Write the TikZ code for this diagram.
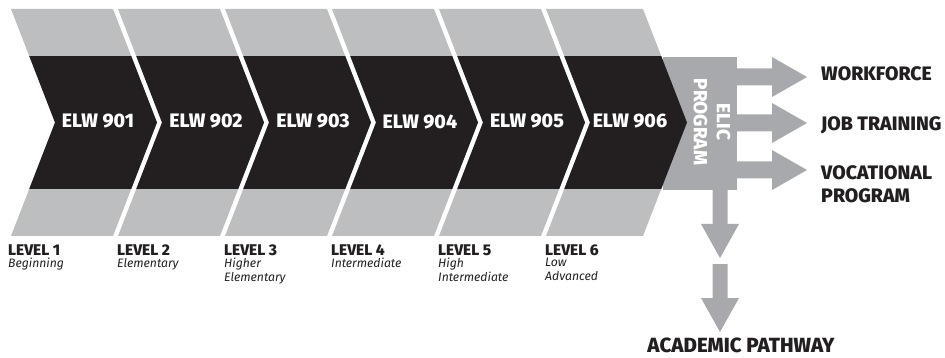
\documentclass[tikz,border=0pt]{standalone}
\usepackage{fontspec}
\setmainfont{Fira Sans}[BoldFont={Fira Sans ExtraBold}]
\usetikzlibrary{calc}
\definecolor{lgray}{HTML}{BCBEC0}
\definecolor{dgray}{HTML}{A7A9AC}
\definecolor{ink}{HTML}{231F20}
\tikzset{
  elw/.style={text=white, font=\bfseries\fontsize{19.5}{22}\selectfont, inner sep=0pt},
  lvl/.style={font=\bfseries\fontsize{15.5}{17}\selectfont, inner sep=0pt, text=ink, anchor=base west},
  lvldesc/.style={font=\itshape\fontsize{12.2}{14}\selectfont, inner sep=0pt, text=ink, align=left, anchor=north west},
  outlbl/.style={font=\bfseries\fontsize{19.5}{23}\selectfont, inner sep=0pt, text=ink, align=left},
  elicbox/.style={fill=dgray, inner sep=0pt, minimum width=74pt, minimum height=133pt},
  elictxt/.style={text=white, font=\bfseries\fontsize{19}{23}\selectfont, inner sep=0pt, align=center, rotate=-90},
  blockarrow/.style={fill=dgray}
}
\newcommand\colshape[2]{(#1,9) -- (#2,9) -- (#2+44,122.5) -- (#2,236) -- (#1,236) -- (#1+44,122.5) -- cycle}
\begin{document}
\begin{tikzpicture}[x=1pt,y=-1pt]
\useasboundingbox (0,0) rectangle (945,358);
% light gray chevron columns
\foreach \L/\R in {11/113,118/220,225/327,332/434,439/541,546/643}{
  \fill[lgray] \colshape{\L}{\R};
}
% ELIC program box
\node[elicbox] (elic) at (700,123.5) {};
% black chevron band
\begin{scope}
  \clip (0,57) rectangle (945,189);
  \foreach \L/\R in {11/113,118/220,225/327,332/434,439/541,546/643}{
    \fill[ink] \colshape{\L}{\R};
  }
\end{scope}
% course labels
\node[elw] (c1) at (98,121.5) {ELW 901};
\node[elw] (c2) at (206,121.5) {ELW 902};
\node[elw] (c3) at (313,121.5) {ELW 903};
\node[elw] (c4) at (420,121.5) {ELW 904};
\node[elw] (c5) at (527,121.5) {ELW 905};
\node[elw] (c6) at (630,121.5) {ELW 906};
\node[elictxt] (elictext) at (712,122) {ELIC\\PROGRAM};
% level labels
\node[lvl] (l1) at (8,255) {LEVEL 1};
\node[lvl] (l2) at (117,255) {LEVEL 2};
\node[lvl] (l3) at (224,255) {LEVEL 3};
\node[lvl] (l4) at (331,255) {LEVEL 4};
\node[lvl] (l5) at (438,255) {LEVEL 5};
\node[lvl] (l6) at (545,255) {LEVEL 6};
\node[lvldesc] (d1) at (8,258) {Beginning};
\node[lvldesc] (d2) at (117,258) {Elementary};
\node[lvldesc] (d3) at (224,258) {Higher\\Elementary};
\node[lvldesc] (d4) at (331,258) {Intermediate};
\node[lvldesc] (d5) at (438,258) {High\\Intermediate};
\node[lvldesc] (d6) at (545,258) {Low\\Advanced};
% outcome labels
\node[outlbl, anchor=base west] (wf) at (821,80.5) {WORKFORCE};
\node[outlbl, anchor=base west] (jt) at (821,131) {JOB TRAINING};
\node[outlbl, anchor=north west] (vp) at (821,165) {VOCATIONAL\\PROGRAM};
\node[outlbl, anchor=base, font=\bfseries\fontsize{20.5}{23}\selectfont] (ap) at (741,352) {ACADEMIC PATHWAY};
% arrow start points
\coordinate (r1) at (737,77);
\coordinate (r2) at (737,123);
\coordinate (r3) at (737,170);
\coordinate (dn1) at (720,190);
\coordinate (dn2) at (720,264);
% right block arrows
\foreach \p in {r1,r2,r3}{
  \fill[blockarrow] ($(\p)+(0,-8.5)$) -- ++(35,0) -- ++(0,-11.5) -- ++(35,20) -- ++(-35,20) -- ++(0,-11.5) -- ++(-35,0) -- cycle;
}
% down block arrows
\foreach \p in {dn1,dn2}{
  \fill[blockarrow] ($(\p)+(-7.5,0)$) -- ++(15,0) -- ++(0,34) -- ++(11.5,0) -- ++(-19,34) -- ++(-19,-34) -- ++(11.5,0) -- cycle;
}
\end{tikzpicture}
\end{document}
